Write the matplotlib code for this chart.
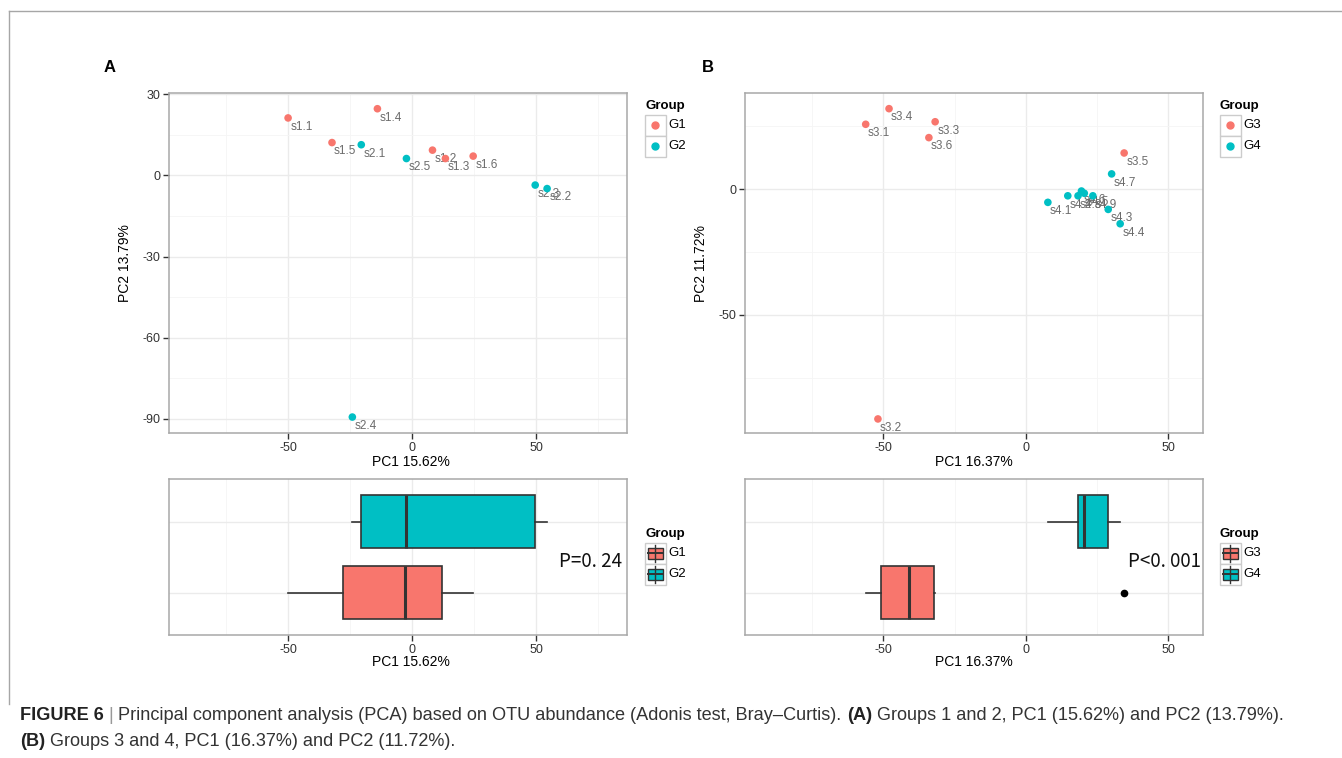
import matplotlib
matplotlib.use("Agg")
import matplotlib.pyplot as plt
import numpy as np
from matplotlib.patches import Rectangle
from matplotlib.lines import Line2D

plt.rcParams['font.family'] = ['Liberation Sans', 'DejaVu Sans']
plt.rcParams['axes.unicode_minus'] = False

W, H = 1342, 758
RED, TEAL = '#F8766D', '#00BFC4'

# panel A: groups 1 and 2
a_names = ['s1.1', 's1.2', 's1.3', 's1.4', 's1.5', 's1.6',
           's2.1', 's2.2', 's2.3', 's2.4', 's2.5']
a_group = ['G1'] * 6 + ['G2'] * 5
a_pc1 = [-50.1, 8.1, 13.3, -14.1, -32.4, 24.5, -20.6, 54.3, 49.5, -24.2, -2.4]
a_pc2 = [21.2, 9.3, 6.2, 24.6, 12.1, 7.1, 11.3, -4.9, -3.6, -89.3, 6.2]

# panel B: groups 3 and 4
b_names = ['s3.1', 's3.2', 's3.3', 's3.4', 's3.5', 's3.6',
           's4.1', 's4.2', 's4.3', 's4.4', 's4.5', 's4.6', 's4.7', 's4.8', 's4.9']
b_group = ['G3'] * 6 + ['G4'] * 9
b_pc1 = [-56.2, -51.9, -31.8, -48.0, 34.6, -34.0,
         7.8, 14.8, 29.0, 33.2, 20.6, 19.6, 30.2, 18.4, 23.6]
b_pc2 = [25.7, -91.3, 26.7, 31.9, 14.3, 20.4,
         -5.3, -2.7, -8.1, -13.8, -1.7, -0.8, 6.0, -2.7, -2.7]

a_xlab, a_ylab = 'PC1 15.62%', 'PC2 13.79%'
b_xlab, b_ylab = 'PC1 16.37%', 'PC2 11.72%'
a_p, b_p = 'P=0. 24', 'P<0. 001'

fig = plt.figure(figsize=(W / 100, H / 100), dpi=100)


def fx(x):
    return x / W


def fy(y):
    return 1 - y / H


def px_axes(l, t, r, b):
    return fig.add_axes([fx(l), fy(b), (r - l) / W, (b - t) / H])


def style(ax, xlim, ylim, xminor, yticks=None, yminor=None):
    ax.set_xlim(xlim)
    ax.set_ylim(ylim)
    ax.set_xticks([-50, 0, 50])
    ax.set_xticks(xminor, minor=True)
    if yticks is not None:
        ax.set_yticks(yticks)
        ax.set_yticks(yminor, minor=True)
    ax.grid(which='major', color='#ebebeb', lw=1.0)
    ax.grid(which='minor', color='#f5f5f5', lw=0.6)
    ax.set_axisbelow(True)
    for s in ax.spines.values():
        s.set_color('#a8a8a8')
        s.set_linewidth(1.1)
    ax.tick_params(which='major', length=4, width=1, color='#333333',
                   labelsize=9, labelcolor='#333333', pad=2)
    ax.tick_params(which='minor', length=0)


def scatter_panel(ax, names, groups, pc1, pc2, colors):
    for g, c in colors.items():
        xs = [x for x, gg in zip(pc1, groups) if gg == g]
        ys = [y for y, gg in zip(pc2, groups) if gg == g]
        ax.scatter(xs, ys, s=30, color=c, edgecolors='none', zorder=3)
    for n, x, y in zip(names, pc1, pc2):
        ax.annotate(n, (x, y), xytext=(1.5, -2), textcoords='offset points',
                    ha='left', va='top', fontsize=8.5, color='#6b6b6b', zorder=2)


def box_panel(ax, groups, pc1, colors, ptext, px):
    gnames = list(colors.keys())
    data = [[x for x, g in zip(pc1, groups) if g == gn] for gn in gnames]
    bp = ax.boxplot(data, positions=[1, 2], widths=0.75, orientation='horizontal',
                    patch_artist=True, showcaps=False, whis=1.5,
                    boxprops=dict(edgecolor='#333333', lw=1.2),
                    medianprops=dict(color='#333333', lw=2.2),
                    whiskerprops=dict(color='#333333', lw=1.2),
                    flierprops=dict(marker='o', markerfacecolor='black',
                                    markeredgecolor='black', markersize=4.5))
    for patch, gn in zip(bp['boxes'], gnames):
        patch.set_facecolor(colors[gn])
    ax.set_yticks([1, 2])
    ax.set_yticklabels([])
    ax.tick_params(axis='y', length=0)
    ax.text(px, 1.44, ptext, ha='center', va='center', fontsize=13.5,
            family=['Noto Sans CJK SC', 'DejaVu Sans'], color='#111111')


def legend(x, y, gnames, colors, box=False):
    fig.text(fx(x), fy(y), 'Group', fontsize=9.5, fontweight='bold',
             ha='left', va='center')
    kw, kh = 20.5, 20.8
    for i, g in enumerate(gnames):
        top = y + 9 + i * kh
        fig.add_artist(Rectangle((fx(x), fy(top + kh)), kw / W, kh / H,
                                 transform=fig.transFigure, facecolor='white',
                                 edgecolor='#cccccc', lw=1))
        cx, cy = x + kw / 2, top + kh / 2
        if box:
            fig.add_artist(Line2D([fx(cx), fx(cx)], [fy(top + 2), fy(top + kh - 2)],
                                  transform=fig.transFigure, color='#333333', lw=1))
            fig.add_artist(Rectangle((fx(x + 2.5), fy(top + kh * 0.76)), (kw - 5) / W,
                                     kh * 0.5 / H, transform=fig.transFigure,
                                     facecolor=colors[g], edgecolor='#333333', lw=1))
            fig.add_artist(Line2D([fx(x + 2.5), fx(x + kw - 2.5)], [fy(cy), fy(cy)],
                                  transform=fig.transFigure, color='#333333', lw=1.4))
        else:
            fig.add_artist(Line2D([fx(cx)], [fy(cy)], transform=fig.transFigure,
                                  marker='o', ms=5, color=colors[g], lw=0))
        fig.text(fx(x + kw + 3), fy(cy), g, fontsize=9.5, ha='left', va='center')


# --- panel A ---
colA = {'G1': RED, 'G2': TEAL}
axA = px_axes(169, 93.3, 627, 433.3)
style(axA, (-98.1, 86.5), (-95.3, 30.3), [-75, -25, 25, 75],
      [-90, -60, -30, 0, 30], [-75, -45, -15, 15])
scatter_panel(axA, a_names, a_group, a_pc1, a_pc2, colA)
axA.set_xlabel(a_xlab, fontsize=10)
axA.set_ylabel(a_ylab, fontsize=10)
axA.xaxis.set_label_coords((411 - 169) / 458, (433.3 - 455) / 340)
axA.yaxis.set_label_coords((132 - 169) / 458, 0.5)

axAb = px_axes(169, 479.3, 627, 635.3)
style(axAb, (-98.1, 86.5), (0.4, 2.6), [-75, -25, 25, 75])
box_panel(axAb, a_group, a_pc1, colA, a_p, 71.8)
axAb.set_xlabel(a_xlab, fontsize=10)
axAb.xaxis.set_label_coords((411 - 169) / 458, (635.3 - 655) / 156)

# --- panel B ---
colB = {'G3': RED, 'G4': TEAL}
axB = px_axes(745, 93.3, 1203, 433.3)
style(axB, (-98.6, 62.3), (-97.0, 38.0), [-75, -25, 25],
      [-50, 0], [-75, -25, 25])
scatter_panel(axB, b_names, b_group, b_pc1, b_pc2, colB)
axB.set_xlabel(b_xlab, fontsize=10)
axB.set_ylabel(b_ylab, fontsize=10)
axB.xaxis.set_label_coords(0.5, (433.3 - 455) / 340)
axB.yaxis.set_label_coords((708 - 745) / 458, 0.5)

axBb = px_axes(745, 479.3, 1203, 635.3)
style(axBb, (-98.6, 62.3), (0.4, 2.6), [-75, -25, 25])
box_panel(axBb, b_group, b_pc1, colB, b_p, 48.6)
axBb.set_xlabel(b_xlab, fontsize=10)
axBb.xaxis.set_label_coords(0.5, (635.3 - 655) / 156)

# legends
legend(645, 106, ['G1', 'G2'], colA)
legend(1220, 106, ['G3', 'G4'], colB)
legend(645, 534, ['G1', 'G2'], colA, box=True)
legend(1220, 534, ['G3', 'G4'], colB, box=True)

# panel letters
fig.text(fx(104), fy(67), 'A', fontsize=12, fontweight='bold', va='center')
fig.text(fx(702), fy(67), 'B', fontsize=12, fontweight='bold', va='center')

# figure frame
fig.add_artist(Line2D([fx(9), fx(1342)], [fy(10.5), fy(10.5)],
                      transform=fig.transFigure, color='#a6a6a6', lw=1))
fig.add_artist(Line2D([fx(9), fx(9)], [fy(10.5), fy(704)],
                      transform=fig.transFigure, color='#a6a6a6', lw=1))

# caption, drawn piece by piece
line1 = [('FIGURE 6', True, '#222222'), (' | ', False, '#999999'),
         ('Principal component analysis (PCA) based on OTU abundance (Adonis test, Bray\u2013Curtis). ',
          False, '#333333'),
         ('(A)', True, '#222222'),
         (' Groups 1 and 2, PC1 (15.62%) and PC2 (13.79%).', False, '#333333')]
line2 = [('(B)', True, '#222222'),
         (' Groups 3 and 4, PC1 (16.37%) and PC2 (11.72%).', False, '#333333')]

renderer = fig.canvas.get_renderer()


def draw_line(parts, x0, y, size):
    x = x0
    for txt, bold, col in parts:
        t = fig.text(fx(x), fy(y), txt, fontsize=size, color=col,
                     fontweight='bold' if bold else 'normal', va='center', ha='left')
        x += t.get_window_extent(renderer).width
    return x - x0


# fit caption width to the reference (about 1270 px)
probe = draw_line(line1, 20, -100, 10)
for t in list(fig.texts)[-len(line1):]:
    t.remove()
size = 10 * 1268 / probe
draw_line(line1, 20, 716, size)
draw_line(line2, 20, 741, size)

fig.savefig('out.png', dpi=100)
